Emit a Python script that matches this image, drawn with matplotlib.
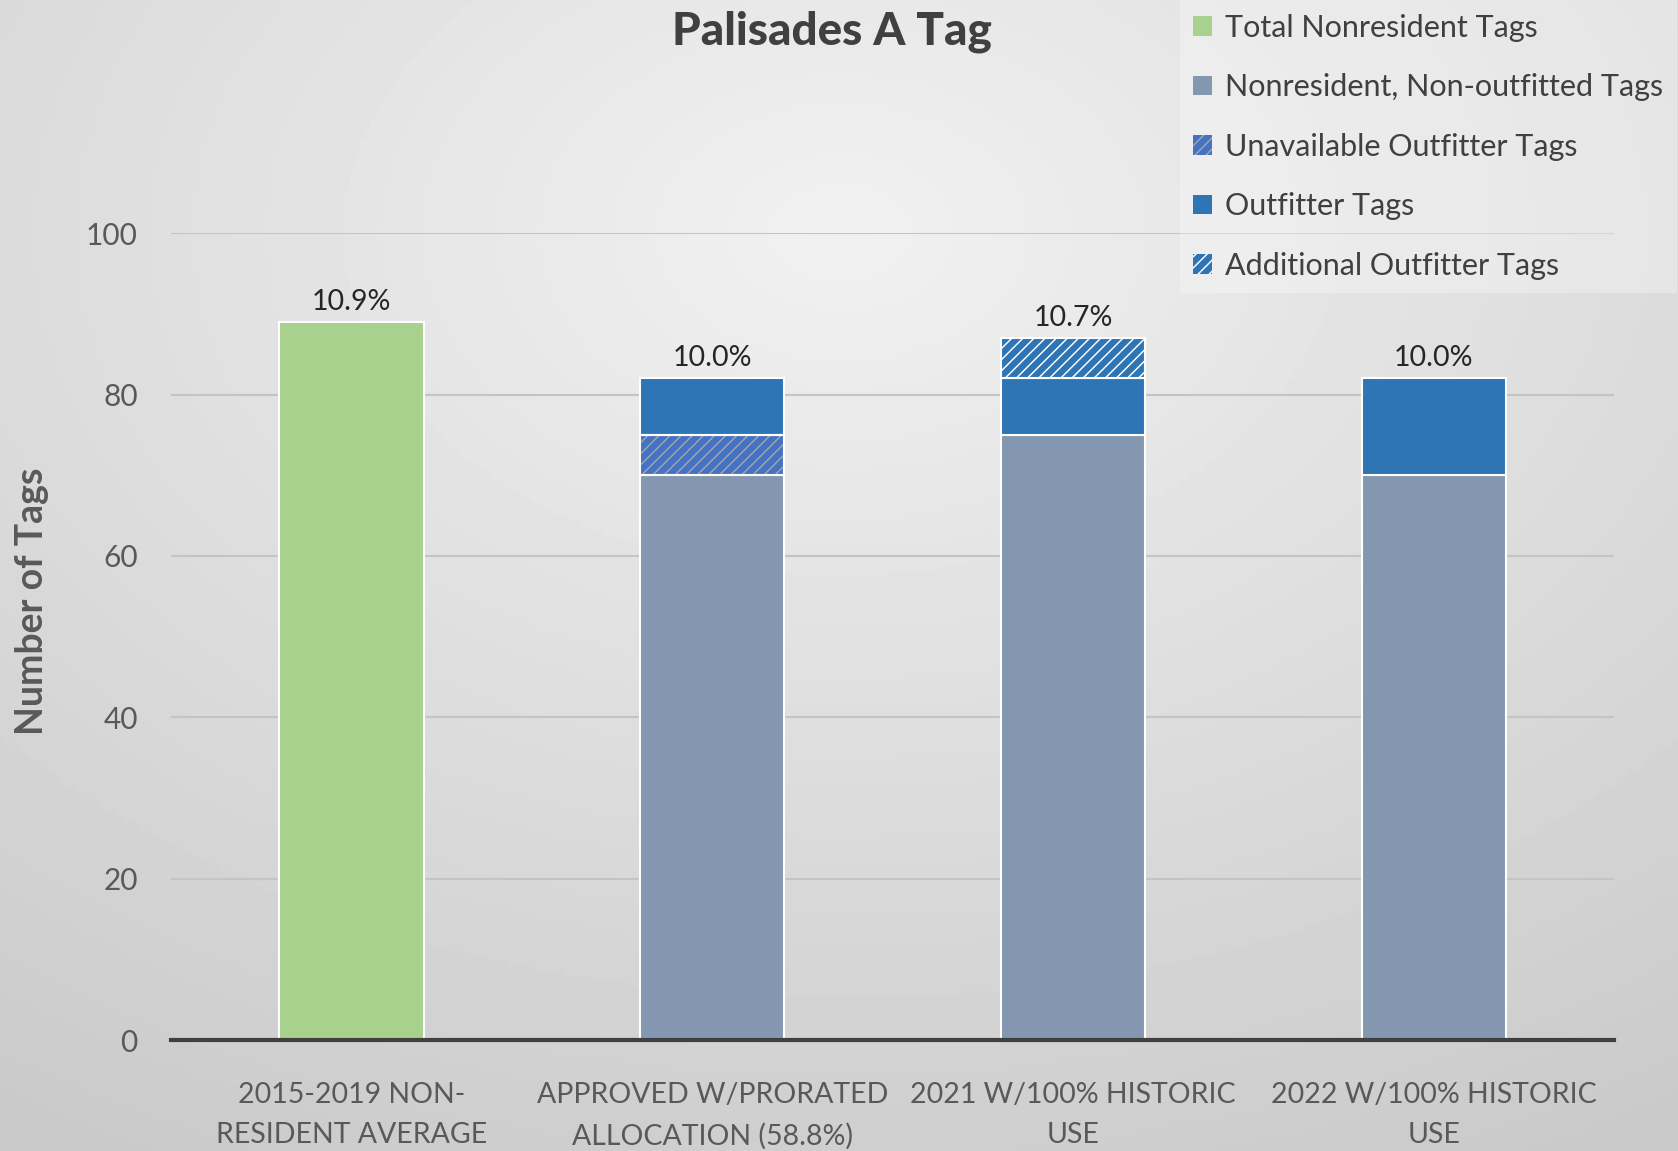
import numpy as np
import matplotlib
matplotlib.use("Agg")
import matplotlib.pyplot as plt
from matplotlib import font_manager as fm
from matplotlib.patches import Patch

categories = ["2015-2019 NON-\nRESIDENT AVERAGE", "APPROVED W/PRORATED\nALLOCATION (58.8%)",
              "2021 W/100% HISTORIC\nUSE", "2022 W/100% HISTORIC\nUSE"]
total_nonres = [89, 0, 0, 0]
nonres_nonoutfitted = [0, 70, 75, 70]
unavailable_outfitter = [0, 5, 0, 0]
outfitter = [0, 7, 7, 12]
additional_outfitter = [0, 0, 5, 0]
pct_labels = ["10.9%", "10.0%", "10.7%", "10.0%"]
yticks = [0, 20, 40, 60, 80, 100]

names = {f.name for f in fm.fontManager.ttflist}
main_font = "Lato" if "Lato" in names else "DejaVu Sans"
plt.rcParams["font.family"] = [main_font, "DejaVu Sans"]
plt.rcParams["hatch.linewidth"] = 4.6

GREEN = "#a9d18e"
GREYBLUE = "#8497b0"
BLUE = "#2e75b6"
HATCHBLUE = "#4472c4"
HATCHGREY = "#a5a5a5"
TXT = "#595959"

fig = plt.figure(figsize=(16.78, 11.51), dpi=100)

# background gradient
bg = fig.add_axes([0, 0, 1, 1], zorder=-10)
H, W = 230, 336
yy, xx = np.mgrid[0:H, 0:W]
cx, cy = 0.5 * W, 0.2 * H
d = np.sqrt(((xx - cx) / W) ** 2 + ((yy - cy) / H) ** 2)
val = 0.945 - 0.17 * d
bg.imshow(val, cmap="gray", vmin=0, vmax=1, aspect="auto", extent=[0, 1, 0, 1], origin="upper")
bg.set_axis_off()

ax = fig.add_axes([0.102, 0.0964, 0.860, 0.701])
ax.patch.set_alpha(0)
x = np.arange(len(categories))
w = 0.4

def draw(vals, bottoms, fc, hatch=None, hc=None):
    for i, (v, b) in enumerate(zip(vals, bottoms)):
        if v <= 0:
            continue
        if hatch:
            ax.bar(x[i], v, w, bottom=b, facecolor=fc, edgecolor=hc, hatch=hatch, linewidth=0, zorder=3)
            ax.bar(x[i], v, w, bottom=b, facecolor="none", edgecolor="white", linewidth=1.5, zorder=4)
        else:
            ax.bar(x[i], v, w, bottom=b, facecolor=fc, edgecolor="white", linewidth=1.5, zorder=3)

base = np.zeros(len(categories))
draw(total_nonres, base, GREEN)
draw(nonres_nonoutfitted, base, GREYBLUE)
base = base + np.array(nonres_nonoutfitted)
draw(unavailable_outfitter, base, HATCHGREY, "///", HATCHBLUE)
base = base + np.array(unavailable_outfitter)
draw(outfitter, base, BLUE)
base = base + np.array(outfitter)
draw(additional_outfitter, base, "white", "///", BLUE)
base = base + np.array(additional_outfitter)
tops = np.maximum(base, np.array(total_nonres))

for i, t in enumerate(tops):
    ax.annotate(pct_labels[i], (x[i], t), xytext=(0, 5), textcoords="offset points",
                ha="center", va="bottom", fontsize=20.5, color="#262626")

ax.set_xlim(-0.5, 3.5)
ax.set_ylim(0, 100)
ax.set_yticks(yticks)
ax.yaxis.grid(True, color="#c4c4c4", linewidth=1.5, zorder=0)
ax.set_axisbelow(True)
for s in ["top", "right", "left"]:
    ax.spines[s].set_visible(False)
ax.spines["bottom"].set_color("#404040")
ax.spines["bottom"].set_linewidth(3)
ax.spines["bottom"].set_zorder(5)
ax.tick_params(axis="y", length=0, pad=24, labelsize=21.5, labelcolor=TXT)
ax.tick_params(axis="x", length=0, pad=30)
ax.set_xticks(x)
ax.set_xticklabels(categories, fontsize=20.5, color=TXT, linespacing=1.7)

fig.text(0.4955, 0.972, "Palisades A Tag", ha="center", va="center", fontsize=33,
         fontweight="black", color="#404040")
fig.text(0.019, 0.478, "Number of Tags", ha="center", va="center", rotation=90,
         fontsize=27, fontweight="bold", color=TXT)

handles = [
    Patch(facecolor=GREEN, edgecolor="none"),
    Patch(facecolor=GREYBLUE, edgecolor="none"),
    Patch(facecolor=HATCHGREY, edgecolor=HATCHBLUE, hatch="///", linewidth=0),
    Patch(facecolor=BLUE, edgecolor="none"),
    Patch(facecolor="white", edgecolor=BLUE, hatch="///", linewidth=0),
]
labels = ["Total Nonresident Tags", "Nonresident, Non-outfitted Tags", "Unavailable Outfitter Tags",
          "Outfitter Tags", "Additional Outfitter Tags"]
leg = fig.legend(handles, labels, loc="upper left", bbox_to_anchor=(0.703, 1.0),
                 frameon=True, fontsize=22, labelspacing=1.03, handlelength=0.6,
                 handleheight=0.6, handletextpad=0.45, borderpad=0.45, borderaxespad=0)
leg.get_frame().set_facecolor("white")
leg.get_frame().set_alpha(0.3)
leg.get_frame().set_edgecolor("none")
leg.get_frame().set_boxstyle("square", pad=0)
for t in leg.get_texts():
    t.set_color("#404040")

fig.savefig("out.png", dpi=100)
